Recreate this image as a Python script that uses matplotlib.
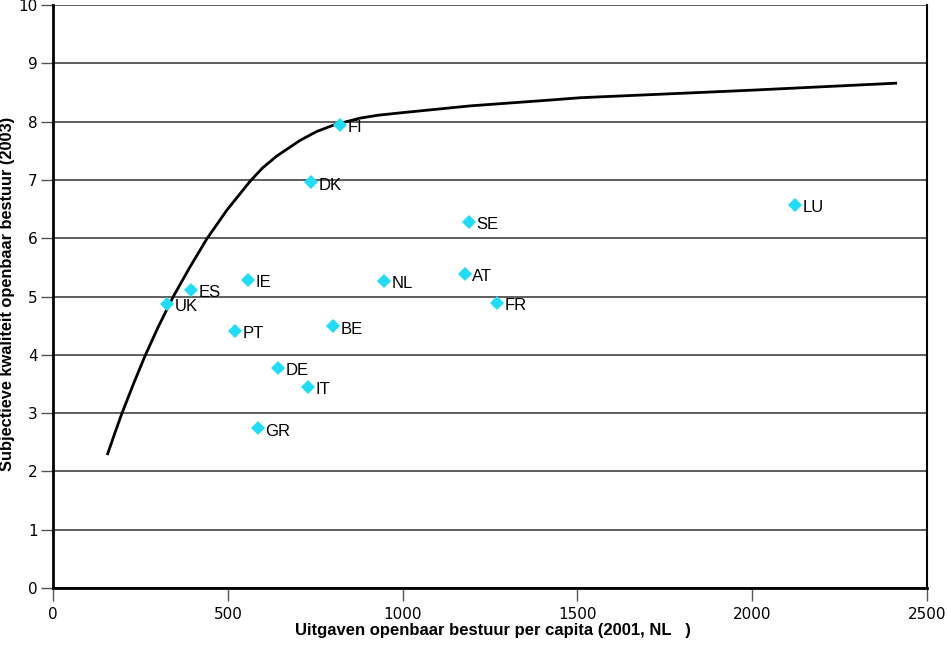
import matplotlib
matplotlib.use("Agg")
import matplotlib.pyplot as plt

plt.rcParams['font.family'] = ['Liberation Sans', 'DejaVu Sans']

# landen, uitgaven per capita en kwaliteit
countries = ["FI", "DK", "SE", "LU", "IE", "ES", "UK", "NL", "AT", "FR",
             "PT", "BE", "DE", "IT", "GR"]
spending = [820, 737, 1189, 2123, 557, 394, 326, 946, 1177, 1271,
            520, 800, 643, 729, 586]
quality = [7.94, 6.96, 6.28, 6.57, 5.28, 5.11, 4.87, 5.27, 5.39, 4.89,
           4.41, 4.49, 3.77, 3.45, 2.74]

# trendlijn
curve_x = [155, 177, 196, 230, 263, 301, 344, 392, 440, 497, 564, 600, 640,
           707, 754, 802, 878, 930, 993, 1193, 1422, 1508, 1851, 2000, 2414]
curve_y = [2.28, 2.66, 2.98, 3.50, 3.98, 4.48, 5.00, 5.51, 5.99, 6.48,
           6.98, 7.21, 7.41, 7.68, 7.83, 7.94, 8.06, 8.11, 8.15, 8.27, 8.37,
           8.41, 8.50, 8.54, 8.66]

fig = plt.figure(figsize=(9.47, 6.45), dpi=100)
ax = fig.add_axes([0.056, 0.0884, 0.923, 0.9038])

ax.set_axisbelow(True)
ax.yaxis.grid(True, color='#333333', lw=1.1)
ax.plot(curve_x, curve_y, color='black', lw=2, solid_capstyle='butt',
        solid_joinstyle='round')
ax.plot(spending, quality, linestyle='none', marker='D', ms=7,
        color='#1FDDF7', markeredgewidth=0)

for c, x, y in zip(countries, spending, quality):
    ax.annotate(c, (x, y), xytext=(5.5, -2), textcoords='offset points',
                ha='left', va='center', fontsize=12)

ax.set_xlim(0, 2500)
ax.set_ylim(0, 10)
ax.set_xticks([0, 500, 1000, 1500, 2000, 2500])
ax.set_yticks(range(0, 11))
ax.tick_params(axis='both', direction='out', length=9, width=1,
               color='#555555', labelsize=11, pad=2)
ax.tick_params(axis='x', pad=5)
for lab in ax.get_xticklabels() + ax.get_yticklabels():
    lab.set_family('DejaVu Sans')

ax.spines['top'].set_visible(False)
ax.spines['left'].set_linewidth(2)
ax.spines['bottom'].set_linewidth(2)
ax.spines['right'].set_linewidth(1.5)

fig.text(493 / 947, 1 - 631 / 645,
         "Uitgaven openbaar bestuur per capita (2001, NL   )",
         ha='center', va='center', fontsize=12, fontweight='bold')
fig.text(7.5 / 947, 1 - 294 / 645,
         "Subjectieve kwaliteit openbaar bestuur (2003)",
         ha='center', va='center', rotation=90, fontsize=11.8,
         fontweight='bold')

fig.savefig("out.png", dpi=100)
